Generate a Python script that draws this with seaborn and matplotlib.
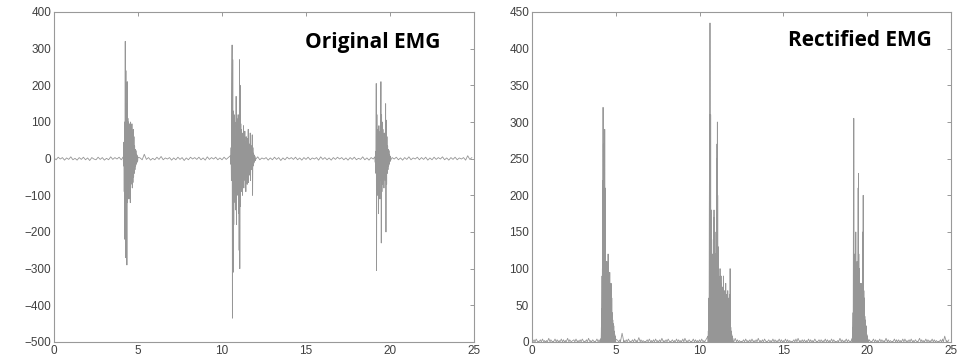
import numpy as np
import pandas as pd
import matplotlib
matplotlib.use("Agg")
import matplotlib.pyplot as plt
import seaborn as sns

# ---------------- data ----------------
baseline_start = 0.0
baseline_dt = 0.125
baseline_vals = [
    2, -3, 4, -1, 3, -4, 2, -2, 5, -3, 1, -4, 3, -2, 4, -3, 2, -5, 3, -1,
    -3, 4, -2, 3, -4, 1, -3, 5, -2, 3, -1, 4, -3, 2, -4, 3, -2, 4, -1, 3,
    -4, 2, -3, 12, -2, 3, -4, 1, -3, 4, -2, 6, -3, 2, -1, 3, -4, 2, -3, 4,
    -2, 3, -5, 2, -3, 4, -1, 3, -2, 4, -3, 2, -4, 5, -2, 3, -1, 4, -3, 2,
    -3, 4, -2, 3, -1, 5, -4, 2, -3, 3, -2, 4, -3, 1, -4, 3, -2, 5, -3, 2,
    -1, 3, -4, 2, -3, 4, -2, 3, -5, 2, -3, 4, -1, 3, -2, 4, -3, 2, -4, 3,
    -2, 4, -3, 2, -1, 3, -4, 5, -2, 3, -3, 2, -4, 3, -2, 4, -1, 3, -3, 2,
    -4, 3, -2, 4, -3, 1, -2, 5, -3, 2, -4, 3, -1, 4, -2, 3, -3, 2, -4, 5,
    -2, 3, -1, 4, -3, 2, -4, 3, -2, 5, -3, 2, -1, 4, -3, 3, -2, 4, -4, 2,
    -3, 4, -2, 3, -1, 5, -3, 2, -4, 3, -2, 4, -3, 2, -1, 3, -4, 8, -2, 3,
]

burst_dt = 0.02
burst1_start = 4.12
burst1_vals = [5, -20, 45, -90, 100, -220, 320, -270, 240, -200,
               150, -290, 210, -120, 110, -80, 100, -110, 95, -60,
               90, -120, 100, -70, 85, -60, 95, -80, 70, -65,
               80, -50, 60, -40, 35, -30, 25, -20, 22, -15,
               12, -10, 8, -6, 4]
burst2_start = 10.50
burst2_vals = [8, -15, 30, -60, 180, 310, -435, 270, -310, 130,
               -180, 120, -90, 100, -120, 60, -140, 170, -180, 110,
               -100, 90, -60, 120, -150, 100, -250, 270, -300, 200,
               -130, 95, -90, 80, -70, 60, -100, 70, -60, 90,
               -80, 50, -40, 75, -60, 45, -90, 60, -50, 40,
               -70, 55, -35, 80, -65, 30, -45, 40, -25, 70,
               -60, 25, -30, 35, -20, 65, -100, 30, -20, 15,
               -12, 10, -8, 6, -5]
burst3_start = 19.10
burst3_vals = [5, -10, 20, -40, 205, -305, 120, -100, 80, -60,
               70, -150, 90, -80, 60, -110, 75, -60, 210, -230,
               120, -90, 100, -70, 80, -60, 50, -80, 70, -50,
               40, -60, 150, -200, 105, -70, 60, -40, 35, -30,
               25, -20, 22, -15, 10, -8, 6, -4]

x_ticks = [0, 5, 10, 15, 20, 25]
left_yticks = [-500, -400, -300, -200, -100, 0, 100, 200, 300, 400]
right_yticks = [0, 50, 100, 150, 200, 250, 300, 350, 400, 450]
title_left = "Original EMG"
title_right = "Rectified EMG"

# ---------------- assemble series ----------------
bt = baseline_start + baseline_dt * np.arange(len(baseline_vals))
bv = np.array(baseline_vals, dtype=float)
bursts = [(burst1_start, burst1_vals), (burst2_start, burst2_vals), (burst3_start, burst3_vals)]
mask = np.ones(len(bt), dtype=bool)
parts_t, parts_v = [], []
for s, vals in bursts:
    t = s + burst_dt * np.arange(len(vals))
    mask &= ~((bt >= t[0]) & (bt <= t[-1]))
    parts_t.append(t)
    parts_v.append(np.array(vals, dtype=float))
parts_t.append(bt[mask])
parts_v.append(bv[mask])
df = pd.DataFrame({"t": np.concatenate(parts_t), "emg": np.concatenate(parts_v)})
df = df.sort_values("t").reset_index(drop=True)

# rectified signal: |emg|, with the zero crossings of the signal kept
t_arr, v_arr = df["t"].to_numpy(), df["emg"].to_numpy()
rt, rv = [t_arr[0]], [abs(v_arr[0])]
for i in range(1, len(t_arr)):
    v0, v1 = v_arr[i - 1], v_arr[i]
    if v0 * v1 < 0:
        tz = t_arr[i - 1] + (t_arr[i] - t_arr[i - 1]) * abs(v0) / (abs(v0) + abs(v1))
        rt.append(tz)
        rv.append(0.0)
    rt.append(t_arr[i])
    rv.append(abs(v1))
df_rect = pd.DataFrame({"t": rt, "rect": rv})

# ---------------- plotting ----------------
sns.set_theme(style="white")
plt.rcParams["font.family"] = ["Liberation Sans", "DejaVu Sans"]

fig = plt.figure(figsize=(9.8, 3.62), dpi=100)
ax1 = fig.add_axes([54 / 980, 20 / 362, 420 / 980, 330 / 362])
ax2 = fig.add_axes([532 / 980, 20 / 362, 419 / 980, 330 / 362])

line_kw = dict(color="#505050", alpha=0.6, linewidth=0.6, estimator=None, legend=False, sort=False)
sns.lineplot(data=df, x="t", y="emg", ax=ax1, **line_kw)
sns.lineplot(data=df_rect, x="t", y="rect", ax=ax2, **line_kw)

for ax, yt in ((ax1, left_yticks), (ax2, right_yticks)):
    ax.set_xlim(x_ticks[0], x_ticks[-1])
    ax.set_ylim(yt[0], yt[-1])
    ax.set_xticks(x_ticks)
    ax.set_yticks(yt)
    ax.set_xlabel("")
    ax.set_ylabel("")
    ax.tick_params(direction="in", top=True, right=True, length=3, width=0.6,
                   color="#888888", labelsize=8.5, labelcolor="#404040", pad=2)
    for sp in ax.spines.values():
        sp.set_color("#999999")
        sp.set_linewidth(0.8)
    ax.set_facecolor("white")

ax1.text(0.919, 0.909, title_left, transform=ax1.transAxes, ha="right", va="center",
         fontsize=15, fontweight="bold", family=["Open Sans", "DejaVu Sans"], color="black")
ax2.text(0.955, 0.915, title_right, transform=ax2.transAxes, ha="right", va="center",
         fontsize=15, fontweight="bold", family=["Open Sans", "DejaVu Sans"], color="black")

fig.savefig("out.png", dpi=100, facecolor="white")
